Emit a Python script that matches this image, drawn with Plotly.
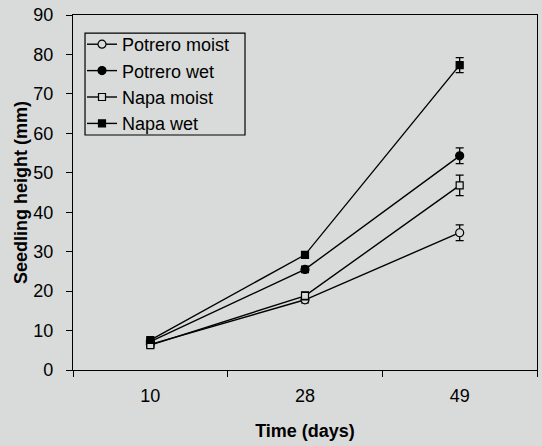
import plotly.graph_objects as go

days = ["10", "28", "49"]
series_names = ["Potrero moist", "Potrero wet", "Napa moist", "Napa wet"]
potrero_moist = [6.5, 17.8, 34.8]
potrero_wet = [7.2, 25.5, 54.3]
napa_moist = [6.3, 18.8, 46.8]
napa_wet = [7.6, 29.2, 77.3]
potrero_moist_err = [0.6, 0.8, 2.0]
potrero_wet_err = [0.5, 0.8, 2.0]
napa_moist_err = [0.6, 1.0, 2.6]
napa_wet_err = [0.5, 0.7, 1.9]

y_ticks = [0, 10, 20, 30, 40, 50, 60, 70, 80, 90]

bg = "#d9dbda"
values = [potrero_moist, potrero_wet, napa_moist, napa_wet]
errors = [potrero_moist_err, potrero_wet_err, napa_moist_err, napa_wet_err]
symbols = ["circle-open", "circle", "square-open", "square"]

fig = go.Figure()
for name, vals, errs, sym in zip(series_names, values, errors, symbols):
    fig.add_trace(go.Scatter(
        x=days, y=vals, name=name, mode="lines+markers",
        line=dict(color="black", width=1.4),
        marker=dict(symbol=sym.replace("-open", ""), size=7 if "square" in sym else 8,
                    color=bg if "open" in sym else "black",
                    line=dict(color="black", width=1.2)),
        error_y=dict(type="data", array=errs, visible=True, color="black",
                     thickness=1.3, width=4),
    ))

# legend frame (tighter than plotly's own legend border)
fig.add_shape(type="rect", xref="paper", yref="paper",
              x0=0.0259, x1=0.3707, y0=0.662, y1=0.949,
              line=dict(color="black", width=1.2), fillcolor="rgba(0,0,0,0)", layer="above")

fig.update_layout(
    width=542, height=446,
    paper_bgcolor=bg, plot_bgcolor=bg,
    margin=dict(l=73, r=5, t=15, b=76),
    font=dict(family="Liberation Sans, Arial, sans-serif", size=18, color="black"),
    showlegend=True,
    legend=dict(x=0.0194, y=0.969, xanchor="left", yanchor="top",
                bgcolor="rgba(0,0,0,0)", borderwidth=0,
                font=dict(size=18), tracegroupgap=0, itemwidth=30),
    xaxis=dict(
        type="category", tickson="boundaries", range=[-0.5, 2.5], automargin=False,
        showline=True, linecolor="black", linewidth=1.4, mirror=True,
        ticks="outside", ticklen=6, tickcolor="black", tickwidth=1.3,
        showgrid=False, zeroline=False, ticklabelstandoff=9,
        title=dict(text="<b>Time (days)</b>", font=dict(size=18), standoff=19),
    ),
    yaxis=dict(
        range=[0, 90], tickvals=y_ticks, automargin=False,
        showline=True, linecolor="black", linewidth=1.4, mirror=True,
        ticks="outside", ticklen=6, tickcolor="black", tickwidth=1.3,
        showgrid=False, zeroline=False, ticklabelstandoff=9,
        title=dict(text="<b>Seedling height (mm)</b>", font=dict(size=18), standoff=0),
    ),
)

fig.write_html("out.html", config={"displayModeBar": False},
               post_script="document.body.style.margin='0';document.body.style.background='" + bg + "';")
